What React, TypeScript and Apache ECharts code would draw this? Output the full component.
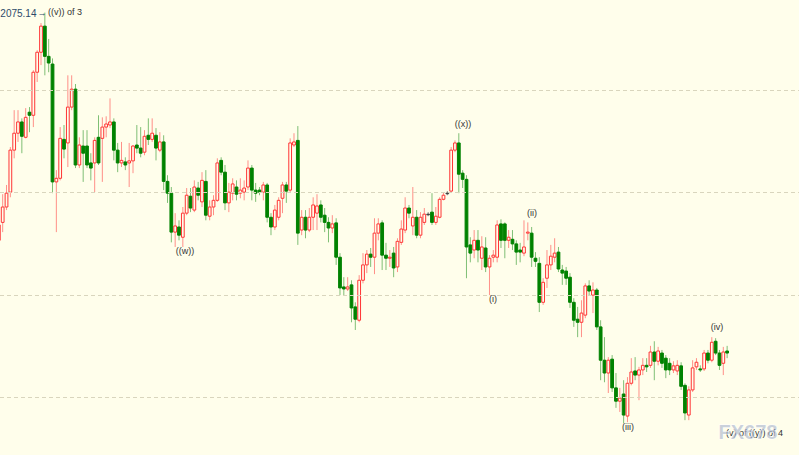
import React, { useEffect, useRef } from "react";
import * as echarts from "echarts";

// ---- data (one entry per candle, left to right) ----
const opens = [
  2030.7, 2034.2, 2037.2, 2040.1, 2048.3, 2051.6, 2053.8, 2050.8, 2055.7, 2055.1,
  2063.5, 2067.4, 2072.5, 2066.6, 2065.1, 2042.1, 2042.8, 2050.4, 2049.7, 2056.7,
  2060.2, 2045.4, 2049.1, 2049.1, 2045.8, 2045.8, 2050.8, 2050.6, 2052.8, 2053.2,
  2053.8, 2048.3, 2045.8, 2046.0, 2045.8, 2046.2, 2049.3, 2048.7, 2047.9, 2051.2,
  2050.4, 2051.2, 2048.3, 2049.9, 2042.2, 2039.9, 2032.3, 2033.3, 2031.3, 2036.0,
  2039.3, 2036.6, 2040.9, 2038.2, 2042.2, 2035.4, 2037.2, 2038.5, 2046.3, 2044.0,
  2038.0, 2039.9, 2041.1, 2039.9, 2040.1, 2041.1, 2044.8, 2040.5, 2040.5, 2040.1,
  2041.5, 2035.2, 2033.3, 2035.2, 2038.9, 2041.5, 2040.5, 2049.3, 2050.2, 2032.7,
  2035.2, 2032.7, 2035.2, 2036.0, 2037.6, 2035.6, 2034.2, 2033.1, 2034.1, 2027.4,
  2021.6, 2021.2, 2022.0, 2017.7, 2015.1, 2022.9, 2025.9, 2028.0, 2027.4, 2032.1,
  2034.1, 2027.8, 2027.2, 2028.2, 2025.5, 2030.3, 2032.7, 2037.0, 2033.5, 2035.2,
  2031.7, 2034.2, 2035.8, 2036.2, 2034.2, 2035.2, 2038.7, 2039.9, 2040.3, 2048.3,
  2049.7, 2043.8, 2042.6, 2029.8, 2028.8, 2030.7, 2027.2, 2029.2, 2025.5, 2027.4,
  2027.4, 2033.9, 2033.9, 2030.7, 2030.9, 2030.0, 2028.8, 2028.2, 2032.1, 2032.1,
  2027.2, 2026.2, 2018.6, 2023.3, 2025.9, 2027.4, 2028.4, 2024.9, 2024.7, 2023.5,
  2018.6, 2015.3, 2014.7, 2016.1, 2021.8, 2020.0, 2021.0, 2013.8, 2007.3, 2004.8,
  2007.5, 2001.9, 1999.3, 2000.7, 1996.4, 2002.8, 2005.2, 2004.4, 2005.4, 2006.3,
  2006.3, 2008.9, 2007.1, 2008.7, 2007.7, 2006.7, 2005.4, 2005.2, 2006.2, 2002.4,
  1996.6, 2001.5, 2006.0, 2005.6, 2005.6, 2008.7, 2007.3, 2011.0, 2008.7, 2006.7,
  2009.1,
];

const closes = [
  2033.7, 2037.2, 2039.9, 2048.3, 2051.6, 2053.8, 2051.0, 2054.7, 2055.1, 2063.5,
  2067.4, 2072.5, 2066.6, 2065.3, 2042.1, 2042.8, 2050.6, 2048.5, 2056.7, 2060.2,
  2045.4, 2049.3, 2047.7, 2045.4, 2044.8, 2050.2, 2045.8, 2052.8, 2053.4, 2053.8,
  2048.3, 2045.8, 2046.3, 2045.4, 2046.2, 2049.1, 2048.7, 2047.7, 2051.0, 2050.4,
  2051.6, 2048.7, 2049.9, 2042.2, 2039.9, 2032.3, 2033.5, 2031.7, 2036.0, 2039.5,
  2037.0, 2041.1, 2039.5, 2042.4, 2035.6, 2037.2, 2038.5, 2045.8, 2044.0, 2038.0,
  2040.1, 2041.7, 2039.7, 2040.5, 2040.9, 2044.8, 2040.5, 2039.9, 2040.1, 2041.5,
  2035.2, 2033.3, 2036.6, 2038.5, 2041.5, 2040.3, 2049.7, 2049.9, 2032.1, 2035.2,
  2032.7, 2035.2, 2037.6, 2037.4, 2035.2, 2034.2, 2033.1, 2033.9, 2027.4, 2021.4,
  2021.2, 2021.6, 2017.5, 2015.3, 2022.9, 2025.9, 2028.0, 2027.4, 2032.1, 2033.9,
  2027.8, 2027.2, 2027.4, 2025.3, 2030.5, 2032.9, 2037.0, 2036.0, 2035.2, 2031.7,
  2035.2, 2035.8, 2035.8, 2034.2, 2035.4, 2038.7, 2039.5, 2039.9, 2048.3, 2049.7,
  2043.6, 2042.6, 2029.4, 2028.2, 2030.7, 2028.8, 2029.4, 2025.5, 2027.2, 2027.8,
  2033.7, 2030.7, 2030.7, 2031.3, 2030.0, 2028.4, 2028.4, 2029.4, 2032.3, 2027.4,
  2026.6, 2018.6, 2022.5, 2025.9, 2027.6, 2028.2, 2025.1, 2024.3, 2023.3, 2018.6,
  2015.1, 2014.7, 2016.5, 2021.8, 2020.8, 2021.0, 2013.8, 2007.3, 2004.8, 2007.3,
  2001.9, 1999.3, 1999.9, 1996.6, 2002.8, 2005.0, 2004.4, 2005.4, 2006.3, 2006.0,
  2008.9, 2007.1, 2009.1, 2006.7, 2005.4, 2005.4, 2006.2, 2006.3, 2002.2, 1997.0,
  2001.5, 2005.8, 2006.9, 2005.4, 2008.7, 2007.3, 2010.8, 2008.7, 2006.3, 2008.9,
  2008.7,
];

const lows = [
  2027.8, 2032.3, 2036.6, 2039.1, 2046.7, 2049.9, 2047.7, 2050.6, 2051.8, 2052.8,
  2061.6, 2064.9, 2062.9, 2063.5, 2039.9, 2032.3, 2042.4, 2046.7, 2045.0, 2056.1,
  2044.8, 2044.8, 2042.1, 2044.8, 2042.4, 2040.1, 2045.4, 2042.1, 2050.8, 2052.6,
  2046.3, 2044.0, 2045.0, 2044.4, 2041.1, 2043.8, 2047.7, 2046.9, 2047.3, 2049.3,
  2049.9, 2046.3, 2047.9, 2040.5, 2038.0, 2030.3, 2029.4, 2030.7, 2029.4, 2035.6,
  2036.2, 2036.2, 2038.5, 2037.2, 2034.6, 2034.6, 2035.6, 2038.2, 2043.4, 2036.6,
  2036.2, 2038.5, 2038.5, 2038.9, 2038.5, 2040.5, 2038.5, 2038.2, 2039.5, 2038.5,
  2034.2, 2031.7, 2032.7, 2034.6, 2036.0, 2038.0, 2040.1, 2048.9, 2029.8, 2031.7,
  2031.1, 2032.3, 2032.7, 2032.7, 2034.2, 2032.3, 2030.3, 2032.1, 2025.9, 2020.0,
  2020.0, 2020.8, 2014.7, 2013.2, 2014.7, 2022.3, 2024.3, 2025.5, 2024.1, 2030.7,
  2024.9, 2024.9, 2025.5, 2023.5, 2024.5, 2029.8, 2032.1, 2035.0, 2031.7, 2031.1,
  2031.1, 2033.7, 2035.4, 2033.7, 2033.7, 2035.0, 2038.5, 2039.5, 2040.1, 2047.9,
  2039.9, 2040.9, 2023.3, 2026.4, 2027.2, 2026.4, 2024.9, 2024.5, 2020.0, 2026.4,
  2026.4, 2029.2, 2027.2, 2029.2, 2028.8, 2025.9, 2026.4, 2027.6, 2030.7, 2025.5,
  2025.5, 2016.7, 2018.1, 2021.4, 2024.9, 2026.4, 2024.5, 2022.0, 2022.0, 2017.5,
  2013.8, 2011.8, 2011.8, 2015.5, 2020.0, 2016.5, 2013.2, 2003.4, 2003.0, 2000.9,
  2001.1, 1998.0, 1997.2, 1995.0, 1995.2, 2002.4, 2003.4, 1999.5, 2004.4, 2005.0,
  2005.8, 2003.4, 2006.3, 2005.8, 2003.8, 2004.4, 2004.8, 2004.4, 2001.5, 1995.6,
  1995.6, 2001.1, 2005.4, 2005.0, 2005.2, 2006.7, 2006.9, 2008.3, 2005.4, 2004.4,
  2007.7,
];

const highs = [
  2038.5, 2039.7, 2041.5, 2048.9, 2056.1, 2056.1, 2054.5, 2056.5, 2056.7, 2063.9,
  2067.8, 2073.1, 2075.14, 2070.0, 2066.2, 2044.4, 2052.8, 2053.2, 2062.9, 2062.9,
  2061.2, 2050.8, 2052.2, 2052.2, 2047.7, 2050.8, 2055.1, 2054.7, 2054.9, 2058.4,
  2054.5, 2049.7, 2049.9, 2046.9, 2049.7, 2049.3, 2053.2, 2052.8, 2052.2, 2054.5,
  2054.5, 2052.6, 2051.8, 2051.2, 2043.4, 2041.1, 2036.0, 2034.6, 2037.2, 2040.9,
  2040.9, 2042.4, 2042.1, 2044.0, 2044.4, 2038.5, 2039.5, 2046.7, 2046.9, 2045.4,
  2041.9, 2042.8, 2042.4, 2042.8, 2042.4, 2046.3, 2045.4, 2041.9, 2041.1, 2042.1,
  2041.9, 2036.0, 2037.6, 2039.1, 2042.1, 2042.1, 2050.6, 2051.6, 2053.0, 2036.6,
  2036.6, 2037.0, 2039.1, 2039.7, 2038.5, 2037.0, 2035.2, 2035.6, 2035.0, 2028.2,
  2023.5, 2023.5, 2022.9, 2018.6, 2023.9, 2028.2, 2028.8, 2029.2, 2035.0, 2035.0,
  2034.6, 2030.2, 2028.8, 2029.4, 2031.1, 2034.6, 2039.1, 2037.6, 2041.1, 2036.6,
  2036.2, 2037.0, 2036.2, 2039.9, 2037.2, 2039.1, 2040.1, 2040.3, 2048.9, 2050.2,
  2051.6, 2044.4, 2043.4, 2031.3, 2032.7, 2032.7, 2031.5, 2031.3, 2027.8, 2028.8,
  2034.6, 2034.8, 2034.2, 2032.7, 2032.7, 2030.7, 2030.2, 2034.6, 2034.2, 2033.3,
  2028.4, 2027.4, 2023.3, 2028.8, 2029.8, 2031.1, 2029.4, 2025.9, 2025.5, 2024.3,
  2019.4, 2017.7, 2019.0, 2022.3, 2022.9, 2022.5, 2021.4, 2015.1, 2011.8, 2007.9,
  2008.3, 2004.8, 2001.9, 2003.4, 2004.0, 2007.7, 2007.9, 2006.0, 2007.7, 2007.7,
  2010.1, 2011.0, 2009.9, 2009.3, 2008.3, 2007.7, 2007.1, 2007.3, 2006.9, 2002.8,
  2002.2, 2007.3, 2007.7, 2006.3, 2009.3, 2009.3, 2011.8, 2011.6, 2009.3, 2009.9,
  2010.1,
];

// dashed guide prices
const guidePrices = [2000, 2020, 2040, 2060];

// annotations
const peakLabel = "2075.14";
const waveLabels = ["((v)) of 3", "((w))", "((x))", "(i)", "(ii)", "(iii)", "(iv)", "(v) of ((y)) of 4"];
const watermark = "FX678";

const BG = "#FFFEEB";
const UP = "#FF3535";
const DOWN = "#008200";
const UP_WICK = "rgba(255,70,70,0.6)";
const DOWN_WICK = "rgba(0,130,0,0.5)";
const FONT = '"Liberation Sans", "DejaVu Sans", sans-serif';

export default function App() {
  const ref = useRef<HTMLDivElement>(null);

  useEffect(() => {
    document.body.style.margin = "0";
    if (!ref.current) return;
    const chart = echarts.init(ref.current, null, { renderer: "svg" });

    const data = opens.map((o, i) => [i, o, closes[i], lows[i], highs[i]]);

    const renderItem = (params: any, api: any) => {
      const idx = api.value(0);
      const o = api.value(1);
      const c = api.value(2);
      const lo = api.value(3);
      const hi = api.value(4);
      const pO = api.coord([idx, o]);
      const pC = api.coord([idx, c]);
      const pL = api.coord([idx, lo]);
      const pH = api.coord([idx, hi]);
      const x = pO[0];
      const bw = api.size([1, 0])[0] * 0.72;
      const isUp = c > o;
      const isDoji = c === o;
      const top = Math.min(pO[1], pC[1]);
      const h = Math.max(Math.abs(pO[1] - pC[1]), 0.6);
      const wickColor = isDoji ? "rgba(60,60,60,0.6)" : isUp ? UP_WICK : DOWN_WICK;
      const bodyStroke = isDoji ? "#404040" : isUp ? UP : DOWN;
      const bodyFill = isDoji ? "#404040" : isUp ? BG : DOWN;
      return {
        type: "group",
        children: [
          {
            type: "line",
            shape: { x1: x, y1: pH[1], x2: x, y2: pL[1] },
            style: { stroke: wickColor, lineWidth: 1 },
          },
          {
            type: "rect",
            shape: { x: x - bw / 2, y: top, width: bw, height: h },
            style: { fill: bodyFill, stroke: bodyStroke, lineWidth: 1 },
          },
        ],
      };
    };

    const txt = (text: string, x: number, y: number, align: string, extra: any = {}) => ({
      type: "text",
      x,
      y,
      z: 100,
      style: {
        text,
        fill: "#333333",
        font: `9px ${FONT}`,
        textAlign: align,
        textVerticalAlign: "middle",
        ...extra,
      },
    });

    chart.setOption({
      animation: false,
      backgroundColor: BG,
      grid: { left: 0, right: 0, top: 0, bottom: 0, containLabel: false },
      xAxis: {
        type: "value",
        min: 0.3,
        max: 208.75,
        show: false,
        splitLine: { show: false },
      },
      yAxis: {
        type: "value",
        min: 1988.8,
        max: 2077.6,
        show: false,
        splitLine: { show: false },
      },
      series: [
        {
          type: "custom",
          renderItem,
          data,
          encode: { x: 0, y: [1, 2, 3, 4] },
          clip: false,
          markLine: {
            silent: true,
            symbol: ["none", "none"],
            label: { show: false },
            lineStyle: { color: "#D9D5BD", width: 1, type: [4, 3] },
            data: guidePrices.map((p) => ({ yAxis: p })),
          },
        },
      ],
      graphic: [
        txt(peakLabel, 36.5, 13.5, "right", { fill: "#2E4A6A", font: `10px ${FONT}` }),
        txt("→", 42, 13, "center", { fill: "#2E4A6A", font: `9px ${FONT}` }),
        txt(waveLabels[0], 48, 11.5, "left"),
        txt(waveLabels[1], 185, 251, "center"),
        txt(waveLabels[2], 463, 124, "center"),
        txt(waveLabels[3], 493, 298.5, "center"),
        txt(waveLabels[4], 532, 213, "center"),
        txt(waveLabels[5], 628, 427, "center"),
        txt(waveLabels[6], 717, 326.5, "center"),
        txt(waveLabels[7], 754.5, 433, "center"),
        {
          type: "text",
          x: 748,
          y: 432,
          z: 110,
          style: {
            text: watermark,
            font: `bold 20px ${FONT}`,
            fill: "rgba(150,165,195,0.5)",
            stroke: "rgba(255,255,255,0.8)",
            lineWidth: 1,
            textAlign: "center",
            textVerticalAlign: "middle",
          },
        },
      ],
    });

    return () => chart.dispose();
  }, []);

  return (
    <div
      ref={ref}
      style={{ position: "fixed", left: 0, top: 0, width: "799px", height: "455px" }}
    />
  );
}
